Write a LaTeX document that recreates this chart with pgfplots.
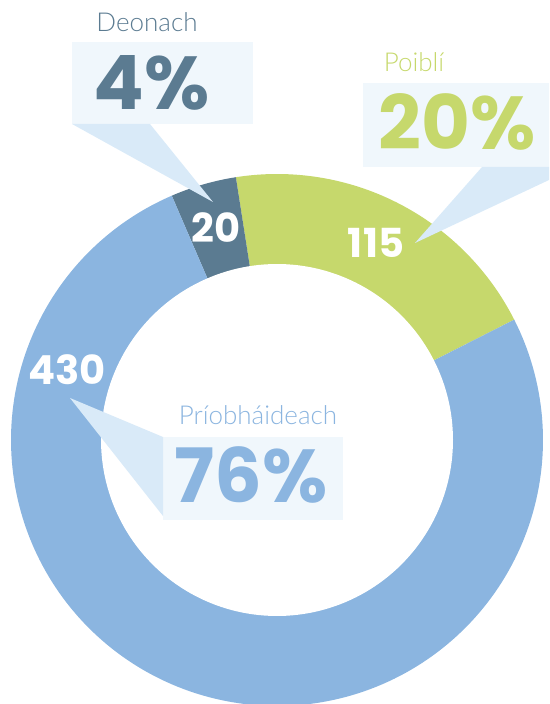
\documentclass[border=0pt]{standalone}
\usepackage{pgfplots}
\pgfplotsset{compat=1.18}
\usepackage{pgfplotstable}
\usepackage{fontspec}
\setmainfont{Poppins}
\newfontfamily\lightfont{Lato Light}
\definecolor{deon}{HTML}{5B7B91}
\definecolor{poib}{HTML}{C6D86C}
\definecolor{prio}{HTML}{8BB5E0}
\definecolor{boxc}{HTML}{F0F7FC}
\definecolor{ptr}{HTML}{D9EAF8}

% name, count, share (%)
\pgfplotstableread{
name value pct
Deonach 20 4
Poibli 115 20
Priobhaideach 430 76
}\datatable
\pgfplotstablegetelem{0}{pct}\of\datatable \let\pD\pgfplotsretval
\pgfplotstablegetelem{1}{pct}\of\datatable \let\pP\pgfplotsretval
\pgfplotstablegetelem{2}{pct}\of\datatable \let\pR\pgfplotsretval
\pgfplotstablegetelem{0}{value}\of\datatable \let\vD\pgfplotsretval
\pgfplotstablegetelem{1}{value}\of\datatable \let\vP\pgfplotsretval
\pgfplotstablegetelem{2}{value}\of\datatable \let\vR\pgfplotsretval

\pgfmathsetmacro{\aS}{98.9}
\pgfmathsetmacro{\aPe}{\aS-3.6*\pP}
\pgfmathsetmacro{\aDe}{\aS+3.6*\pD}
\pgfmathsetmacro{\aRe}{\aDe+3.6*\pR}
\def\cx{277}
\def\cy{-440}
\def\Ro{266}
\def\Ri{176}

\begin{document}
\begin{tikzpicture}
\useasboundingbox (0,0) rectangle (549pt,704pt);
\clip (0,0) rectangle (549pt,704pt);
\begin{axis}[
  width=549pt, height=704pt, scale only axis,
  xmin=0, xmax=549, ymin=-704, ymax=0,
  axis lines=none, clip=true,
]
% ring wedges
\addplot[fill=poib, draw=none, domain=\aPe:\aS, samples=80, variable=\t]
  ({\cx+\Ro*cos(\t)},{\cy+\Ro*sin(\t)}) -- (axis cs:\cx,\cy) -- cycle;
\addplot[fill=deon, draw=none, domain=\aS:\aDe, samples=30, variable=\t]
  ({\cx+\Ro*cos(\t)},{\cy+\Ro*sin(\t)}) -- (axis cs:\cx,\cy) -- cycle;
\addplot[fill=prio, draw=none, domain=\aDe:\aRe, samples=200, variable=\t]
  ({\cx+\Ro*cos(\t)},{\cy+\Ro*sin(\t)}) -- (axis cs:\cx,\cy) -- cycle;
% hole
\addplot[fill=white, draw=none, domain=0:360, samples=200, variable=\t]
  ({\cx+\Ri*cos(\t)},{\cy+\Ri*sin(\t)}) -- cycle;

% callout boxes
\fill[boxc] (axis cs:72,-42) rectangle (axis cs:253,-124);
\fill[boxc] (axis cs:363,-83) rectangle (axis cs:549,-167);
\fill[boxc] (axis cs:163,-437) rectangle (axis cs:343,-520);
% pointers
\fill[ptr] (axis cs:72,-124) -- (axis cs:150,-124) -- (axis cs:213,-202) -- cycle;
\fill[ptr] (axis cs:482,-167) -- (axis cs:549,-167) -- (axis cs:549,-180) -- (axis cs:415,-243) -- cycle;
\fill[ptr] (axis cs:163,-437) -- (axis cs:163,-516) -- (axis cs:70,-398) -- cycle;

% labels
\node[anchor=base, text=deon, font=\lightfont\fontsize{26}{26}\selectfont] at (axis cs:147,-32) {Deonach};
\node[anchor=base, text=poib, font=\lightfont\fontsize{26}{26}\selectfont] at (axis cs:414,-72) {Poiblí};
\node[anchor=base, text=prio, font=\lightfont\fontsize{26}{26}\selectfont] at (axis cs:258,-425) {Príobháideach};
\node[anchor=base, text=deon, font=\bfseries\fontsize{75}{75}\selectfont] at (axis cs:152,-110) {\pD\%};
\node[anchor=base, text=poib, font=\bfseries\fontsize{75}{75}\selectfont] at (axis cs:457,-150) {\pP\%};
\node[anchor=base, text=prio, font=\bfseries\fontsize{75}{75}\selectfont] at (axis cs:251,-503) {\pR\%};
\node[anchor=base, text=white, font=\bfseries\fontsize{40}{40}\selectfont] at (axis cs:216,-243) {\vD};
\node[anchor=base, text=white, font=\bfseries\fontsize{40}{40}\selectfont] at (axis cs:376,-258) {\vP};
\node[anchor=base, text=white, font=\bfseries\fontsize{40}{40}\selectfont] at (axis cs:67,-385) {\vR};
\end{axis}
\end{tikzpicture}
\end{document}
